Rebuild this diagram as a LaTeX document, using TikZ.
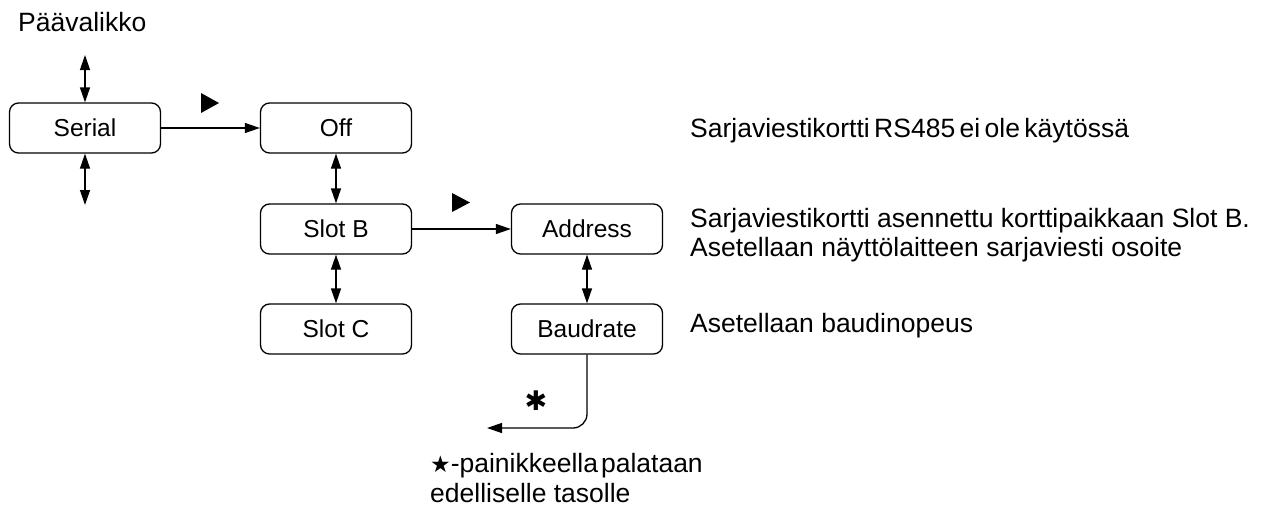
\documentclass[tikz,border=0pt]{standalone}
\usepackage{fontspec}
\setmainfont{Liberation Sans}
\newfontfamily\symfont{DejaVu Sans}
\usetikzlibrary{arrows.meta}
\begin{document}
\begin{tikzpicture}[x=1pt,y=-1pt,
  font=\fontsize{26.5}{31}\selectfont,
  box/.style={draw,line width=1.3pt,rounded corners=9pt,minimum width=151pt,minimum height=50pt,inner sep=0pt,font=\fontsize{24.5}{30}\selectfont},
  tip/.tip={Triangle[length=15pt,width=10pt]},
  conn/.style={line width=1.3pt,-tip},
  dbl/.style={line width=1.3pt,tip-tip},
  txt/.style={anchor=base west,inner sep=0pt},
  tri/.style={fill=black}]
\useasboundingbox (0,0) rectangle (1262,507);
\node[txt] (menu) at (18,31) {Päävalikko};
\node[box] (serial) at (85,128) {Serial};
\node[box] (off) at (336,128) {Off};
\node[box] (slotb) at (336,229) {Slot B};
\node[box] (slotc) at (336,329) {Slot C};
\node[box] (addr) at (587,229) {Address};
\node[box] (baud) at (587,329) {Baudrate};
\coordinate (top) at (85,55);
\coordinate (bot) at (85,205);
\coordinate (ret) at (487,428);
\draw[dbl] (top) -- (serial.north);
\draw[dbl] (serial.south) -- (bot);
\draw[conn] (serial) -- (off);
\draw[dbl] (off) -- (slotb);
\draw[dbl] (slotb) -- (slotc);
\draw[conn] (slotb) -- (addr);
\draw[dbl] (addr) -- (baud);
\draw[conn,rounded corners=14pt] (baud.south) |- (ret);
\fill[tri] (201,93) -- (201,113) -- (219,103) -- cycle;
\fill[tri] (452,193) -- (452,212) -- (470,202.5) -- cycle;
\node[inner sep=0pt] (ast) at (536,401) {\symfont\fontsize{27}{27}\selectfont ✱};
\node[txt] (t1) at (690,137) {Sarjaviestikortti\hspace{4.4pt}RS485\hspace{4.4pt}ei\hspace{4.4pt}ole\hspace{4.4pt}käytössä};
\node[txt] (t2) at (690,227.5) {Sarjaviestikortti asennettu korttipaikkaan Slot B.};
\node[txt] (t3) at (690,256.5) {Asetellaan näyttölaitteen sarjaviesti osoite};
\node[txt] (t4) at (690,332) {Asetellaan baudinopeus};
\node[txt] (f1) at (430,472.5) {{\symfont\fontsize{23}{23}\selectfont ★}-painikkeella\hspace{3pt}palataan};
\node[txt] (f2) at (430,502.5) {edelliselle tasolle};
\end{tikzpicture}
\end{document}
